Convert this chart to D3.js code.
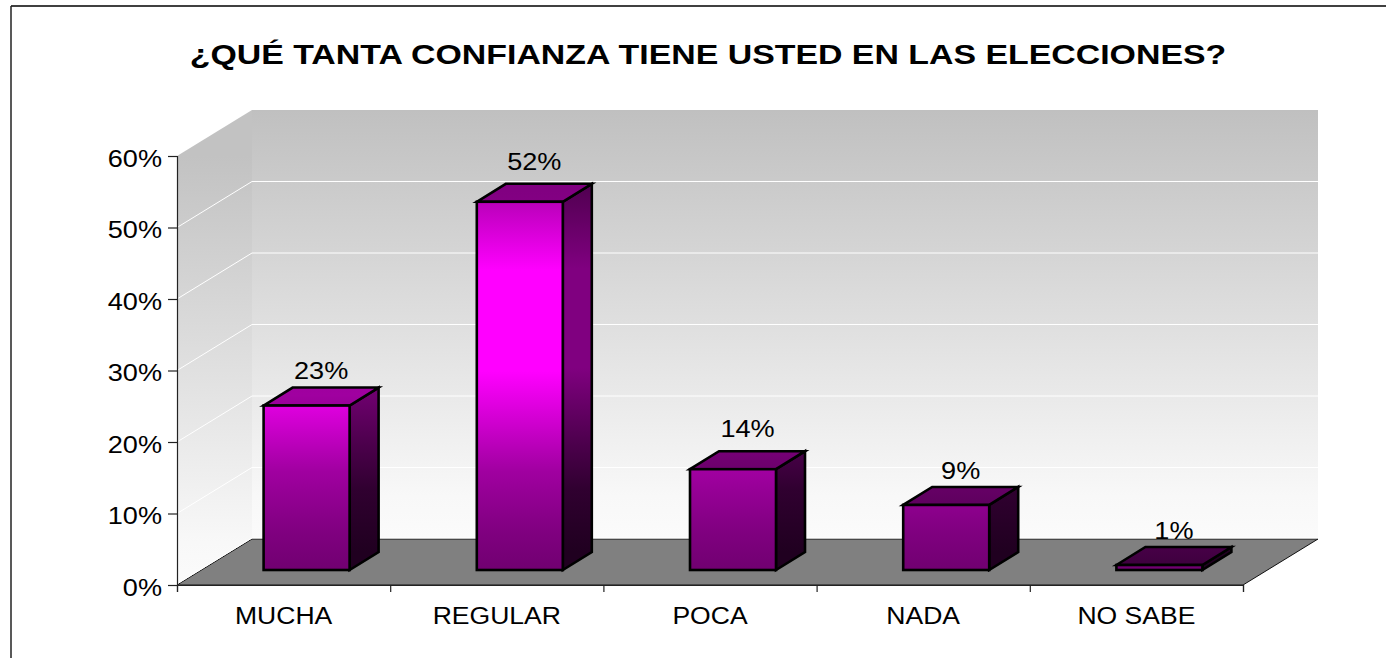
<!DOCTYPE html>
<html>
<head>
<meta charset="utf-8">
<script src="https://cdn.jsdelivr.net/npm/d3@7"></script>
<style>
  html, body { margin: 0; padding: 0; background: #fff; }
  svg { display: block; }
  text { font-family: "Liberation Sans", Arial, sans-serif; fill: #000; }
</style>
</head>
<body>
<div id="chart"></div>
<script>
// values
const categories = ["MUCHA", "REGULAR", "POCA", "NADA", "NO SABE"];
const values = [23, 51.5, 14.1, 9.1, 0.7];
const yTicks = [0, 10, 20, 30, 40, 50, 60];
const titleText = "¿QUÉ TANTA CONFIANZA TIENE USTED EN LAS ELECCIONES?";

const width = 1386, height = 658;
const plot = { left: 177, right: 1243, top: 156, bottom: 585 };
const depth = { x: 75, y: -46 };     // floor/wall offset
const barDepth = { x: 29, y: -18 };  // box offset
const barBase = 15;                  // bars stand this far back on the floor
const barW = 86;
const stretch = 1.13;                // text in the picture is a bit wide
const labelLift = [9, 14, 14, 8, 8]; // label gap above each box differs a little

const svg = d3.select("#chart").append("svg")
    .attr("width", width)
    .attr("height", height);

const y = d3.scaleLinear().domain([0, 60]).range([plot.bottom, plot.top]);
const x = d3.scaleBand().domain(categories).range([plot.left, plot.right]);
const edges = d3.scalePoint().domain(d3.range(categories.length + 1)).range([plot.left, plot.right]);

const poly = d3.line();

function gradient(id, y1, y2, stops) {
    const g = svg.append("defs").append("linearGradient")
        .attr("id", id)
        .attr("gradientUnits", "userSpaceOnUse")
        .attr("x1", 0).attr("x2", 0)
        .attr("y1", y1).attr("y2", y2);
    stops.forEach(s => g.append("stop").attr("offset", s[0]).attr("stop-color", s[1]));
}

gradient("wall", y(60) + depth.y, y(0) + depth.y, [[0, "#c0c0c0"], [0.9, "#f8f8f8"], [1, "#fbfbfb"]]);
gradient("side", y(60), y(0), [[0, "#c2c2c2"], [0.9, "#f8f8f8"], [1, "#fbfbfb"]]);
gradient("front", 200, 572, [[0, "#b800b8"], [0.19, "#ff00ff"], [0.46, "#ff00ff"], [0.55, "#e000e0"],
    [0.73, "#a000a0"], [0.89, "#800080"], [1, "#700070"]]);
gradient("right", 184, 552, [[0, "#500050"], [0.23, "#800080"], [0.5, "#800080"],
    [0.69, "#500050"], [0.83, "#300030"], [1, "#200020"]]);
gradient("top", 184, 568, [[0, "#800080"], [0.55, "#a000a0"], [0.72, "#700070"],
    [0.85, "#5c005c"], [1, "#3c003c"]]);

// frame, only top and left are visible
svg.append("line").attr("x1", 11).attr("x2", width).attr("y1", 6).attr("y2", 6)
    .attr("stroke", "#000").attr("stroke-width", 1.5);
svg.append("line").attr("x1", 11).attr("x2", 11).attr("y1", 6).attr("y2", height)
    .attr("stroke", "#222").attr("stroke-width", 1.5);

// title is wider than the other text
svg.append("text")
    .attr("transform", "translate(708,64) scale(1.21,1)")
    .attr("text-anchor", "middle")
    .attr("font-size", 28)
    .attr("font-weight", "bold")
    .text(titleText);

// walls
svg.append("path")
    .attr("d", poly([[plot.left, y(60)], [plot.left + depth.x, y(60) + depth.y],
        [plot.left + depth.x, y(0) + depth.y], [plot.left, y(0)]]) + "Z")
    .attr("fill", "url(#side)");
svg.append("rect")
    .attr("x", plot.left + depth.x)
    .attr("y", y(60) + depth.y)
    .attr("width", plot.right - plot.left)
    .attr("height", y(0) - y(60))
    .attr("fill", "url(#wall)");

// gridlines run along the side wall and the back wall
svg.append("g").selectAll("path")
    .data(yTicks.filter(d => d > 0 && d < 60))
    .join("path")
    .attr("d", d => poly([[plot.left, y(d)], [plot.left + depth.x, y(d) + depth.y],
        [plot.right + depth.x, y(d) + depth.y]]))
    .attr("fill", "none")
    .attr("stroke", "#fff")
    .attr("stroke-width", 1);

// floor
svg.append("path")
    .attr("d", poly([[plot.left, y(0)], [plot.left + depth.x, y(0) + depth.y],
        [plot.right + depth.x, y(0) + depth.y], [plot.right, y(0)]]) + "Z")
    .attr("fill", "#808080")
    .attr("stroke", "#111")
    .attr("stroke-width", 1);
// thin white edge just above the floor line
svg.append("path")
    .attr("d", poly([[plot.left, y(0) - 1], [plot.left + depth.x, y(0) + depth.y - 1],
        [plot.right + depth.x, y(0) + depth.y - 1]]))
    .attr("fill", "none")
    .attr("stroke", "#fff")
    .attr("stroke-width", 1);

// axes
const yAxis = d3.axisLeft(y)
    .tickValues(yTicks)
    .tickSize(9)
    .tickFormat(d => d + "%");
const yG = svg.append("g").attr("transform", `translate(${plot.left},0)`).call(yAxis);
yG.selectAll("text")
    .attr("font-size", 24)
    .attr("font-family", null)
    .attr("fill", "#000")
    .attr("dy", null)
    .attr("text-anchor", "end")
    .attr("x", 0).attr("y", 0)
    .attr("transform", `translate(-15,10) scale(${stretch},1)`);

const xAxis = d3.axisBottom(edges).tickSize(7).tickFormat("");
svg.append("g").attr("transform", `translate(0,${plot.bottom})`).call(xAxis);
svg.selectAll(".domain, .tick line").attr("stroke", "#222").attr("stroke-width", 1.2);

svg.append("g").selectAll("text")
    .data(categories)
    .join("text")
    .attr("text-anchor", "middle")
    .attr("font-size", 23.5)
    .attr("transform", d => `translate(${x(d) + x.bandwidth() / 2},624) scale(${stretch},1)`)
    .text(d => d);

// bars
const rows = categories.map((c, i) => ({ c, v: values[i], lift: labelLift[i] }));

const bars = svg.append("g").selectAll("g")
    .data(rows)
    .join("g")
    .attr("stroke", "#000")
    .attr("stroke-width", 2.6)
    .attr("stroke-linejoin", "miter");

const fx0 = d => x(d.c) + x.bandwidth() / 2 - barW / 2 + 23;
const fy0 = plot.bottom - barBase;
const fyT = d => y(d.v) - barBase;

bars.append("path") // right face
    .attr("fill", "url(#right)")
    .attr("d", d => poly([[fx0(d) + barW, fyT(d)], [fx0(d) + barW + barDepth.x, fyT(d) + barDepth.y],
        [fx0(d) + barW + barDepth.x, fy0 + barDepth.y], [fx0(d) + barW, fy0]]) + "Z");
bars.append("path") // top face
    .attr("fill", "url(#top)")
    .attr("d", d => poly([[fx0(d), fyT(d)], [fx0(d) + barDepth.x, fyT(d) + barDepth.y],
        [fx0(d) + barW + barDepth.x, fyT(d) + barDepth.y], [fx0(d) + barW, fyT(d)]]) + "Z");
bars.append("rect") // front face
    .attr("fill", "url(#front)")
    .attr("x", fx0)
    .attr("y", fyT)
    .attr("width", barW)
    .attr("height", d => fy0 - fyT(d));

// value labels
svg.append("g").selectAll("text")
    .data(rows)
    .join("text")
    .attr("text-anchor", "middle")
    .attr("font-size", 24)
    .attr("transform", d => `translate(${fx0(d) + barW / 2 + barDepth.x / 2},${fyT(d) + barDepth.y - d.lift}) scale(${stretch},1)`)
    .text(d => Math.round(d.v) + "%");
</script>
</body>
</html>
